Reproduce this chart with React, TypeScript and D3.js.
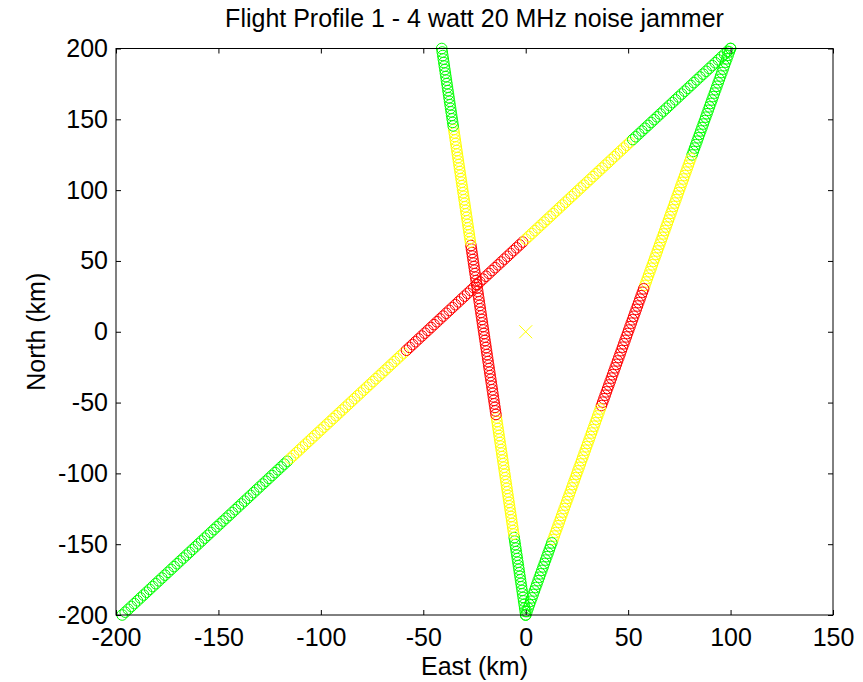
import * as d3 from "d3";
import { useEffect, useRef } from "react";

// Flight legs: start / end positions (km)
const legStartEast = [-197, 100, 0];
const legStartNorth = [-200, 200, -200];
const legEndEast = [100, 0, -41];
const legEndNorth = [200, -200, 200];
// North value (km) at which the marker colour changes along each leg
const legBreakNorth = [
  [-90, -15, 65, 135],
  [123, 32, -54, -147],
  [-145, -59, 63, 144],
];
// colour of each band along a leg, in flight order
const bandColours = ["#00ff00", "#ffff00", "#ff0000", "#ffff00", "#00ff00"];
// spacing between plotted positions along a leg (km)
const sampleStepKm = 2.5;

const jammerEast = [0];
const jammerNorth = [0];

const xTicks = [-200, -150, -100, -50, 0, 50, 100, 150];
const yTicks = [-200, -150, -100, -50, 0, 50, 100, 150, 200];

const FlightChart = () => {
  const ref = useRef<SVGSVGElement>(null);

  useEffect(() => {
    const W = 863,
      H = 682;
    const margin = { top: 48.5, right: 30, bottom: 67, left: 116 };
    const width = W - margin.left - margin.right,
      height = H - margin.top - margin.bottom;

    const root = d3.select(ref.current);
    root.selectAll("*").remove();
    root.append("rect").attr("width", W).attr("height", H).attr("fill", "#fff");

    const svg = root
      .append("g")
      .attr("transform", `translate(${margin.left},${margin.top})`);

    const x = d3.scaleLinear().domain([-200, 150]).range([0, width]);
    const y = d3.scaleLinear().domain([-200, 200]).range([height, 0]);

    const font = "'Liberation Sans', Arial, sans-serif";
    const fontSize = "25px";

    // Title
    root
      .append("text")
      .attr("x", margin.left + width / 2)
      .attr("y", 27)
      .attr("text-anchor", "middle")
      .style("font-family", font)
      .style("font-size", fontSize)
      .style("fill", "#000")
      .text("Flight Profile 1 - 4 watt 20 MHz noise jammer");

    // markers along each leg
    const markers: { e: number; n: number; c: string }[] = [];
    legStartEast.forEach((e0, i) => {
      const n0 = legStartNorth[i];
      const e1 = legEndEast[i];
      const n1 = legEndNorth[i];
      const len = Math.hypot(e1 - e0, n1 - n0);
      const count = Math.round(len / sampleStepKm);
      const breaks = legBreakNorth[i];
      for (let k = 0; k <= count; k++) {
        const t = k / count;
        const e = e0 + (e1 - e0) * t;
        const n = n0 + (n1 - n0) * t;
        const up = n1 > n0;
        let band = 0;
        breaks.forEach((b) => {
          if (up ? n >= b : n <= b) band++;
        });
        markers.push({ e, n, c: bandColours[band] });
      }
    });

    svg
      .append("g")
      .selectAll("circle")
      .data(markers)
      .join("circle")
      .attr("cx", (d) => x(d.e))
      .attr("cy", (d) => y(d.n))
      .attr("r", 5.3)
      .attr("fill", "none")
      .attr("stroke", (d) => d.c)
      .attr("stroke-width", 1);

    // jammer location
    const xs = 6.5;
    jammerEast.forEach((e, i) => {
      const cx = x(e),
        cy = y(jammerNorth[i]);
      svg
        .append("path")
        .attr(
          "d",
          `M${cx - xs},${cy - xs}L${cx + xs},${cy + xs}M${cx - xs},${cy + xs}L${cx + xs},${cy - xs}`
        )
        .attr("stroke", "#ffff00")
        .attr("stroke-width", 1)
        .attr("fill", "none");
    });

    // Box
    svg
      .append("rect")
      .attr("width", width)
      .attr("height", height)
      .attr("fill", "none")
      .attr("stroke", "#000")
      .attr("stroke-width", 1);

    // Axes (ticks inward, on all four sides)
    const tickLen = 5;
    const fmt = (d: d3.NumberValue) => String(d).replace("−", "-");
    const bottom = svg
      .append("g")
      .attr("transform", `translate(0,${height})`)
      .call(d3.axisBottom(x).tickValues(xTicks).tickSize(-tickLen).tickPadding(13).tickFormat(fmt));
    const left = svg
      .append("g")
      .call(d3.axisLeft(y).tickValues(yTicks).tickSize(-tickLen).tickPadding(8).tickFormat(fmt));
    const top = svg
      .append("g")
      .call(d3.axisTop(x).tickValues(xTicks).tickSize(-tickLen).tickFormat(() => ""));
    const right = svg
      .append("g")
      .attr("transform", `translate(${width},0)`)
      .call(d3.axisRight(y).tickValues(yTicks).tickSize(-tickLen).tickFormat(() => ""));

    [bottom, left, top, right].forEach((g) => {
      g.select(".domain").remove();
      g.selectAll("line").attr("stroke", "#000");
      g.selectAll("text")
        .style("font-family", font)
        .style("font-size", fontSize)
        .attr("fill", "#000");
    });

    // Axis labels
    svg
      .append("text")
      .attr("x", width / 2)
      .attr("y", height + 60)
      .attr("text-anchor", "middle")
      .style("font-family", font)
      .style("font-size", fontSize)
      .text("East (km)");

    svg
      .append("text")
      .attr("transform", `translate(${45 - margin.left},${height / 2}) rotate(-90)`)
      .attr("text-anchor", "middle")
      .style("font-family", font)
      .style("font-size", fontSize)
      .text("North (km)");
  }, []);

  return (
    <svg
      width={863}
      height={682}
      ref={ref}
      style={{ position: "absolute", left: 0, top: 0 }}
    />
  );
};

export default function App() {
  return <FlightChart />;
}
